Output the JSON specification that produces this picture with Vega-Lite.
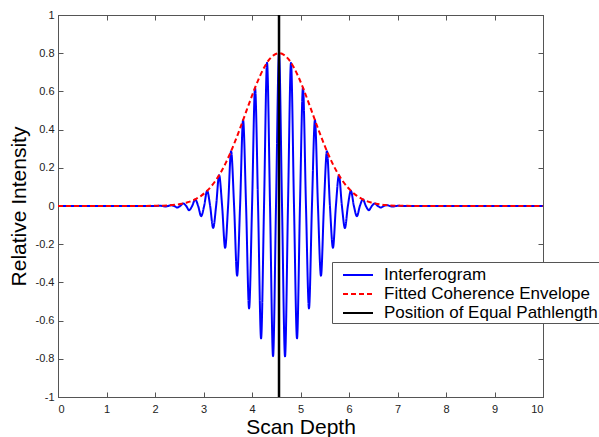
{
  "$schema": "https://vega.github.io/schema/vega-lite/v6.json",
  "width": 485,
  "height": 382,
  "autosize": {"type": "none"},
  "padding": {"left": 58, "top": 15, "right": 56, "bottom": 40},
  "background": "white",
  "config": {
    "view": {"stroke": "#555", "strokeWidth": 1},
    "axis": {
      "grid": false,
      "domainColor": "#555",
      "tickColor": "#555",
      "tickSize": -5,
      "labelFont": "Liberation Sans",
      "labelFontSize": 11,
      "labelColor": "#222",
      "titleFont": "Liberation Sans",
      "titleFontSize": 21,
      "titleFontWeight": "normal",
      "titleColor": "#000"
    },
    "legend": {
      "labelFont": "Liberation Sans",
      "labelFontSize": 17,
      "labelColor": "#000",
      "labelLimit": 500,
      "symbolType": "M-1.5,0H1.5",
      "symbolSize": 400,
      "symbolStrokeWidth": 2,
      "symbolOffset": 13,
      "labelOffset": 15,
      "strokeColor": "#555",
      "fillColor": "#ffffff",
      "padding": 2,
      "rowPadding": 0
    }
  },
  "data": {
    "values": [
      {"series": "Interferogram", "x": 0, "y": 0},
      {"series": "Interferogram", "x": 2.025, "y": 0},
      {"series": "Interferogram", "x": 2.087, "y": 0.0013},
      {"series": "Interferogram", "x": 2.149, "y": 0},
      {"series": "Interferogram", "x": 2.211, "y": -0.0025},
      {"series": "Interferogram", "x": 2.272, "y": 0},
      {"series": "Interferogram", "x": 2.334, "y": 0.0045},
      {"series": "Interferogram", "x": 2.396, "y": 0},
      {"series": "Interferogram", "x": 2.458, "y": -0.0078},
      {"series": "Interferogram", "x": 2.519, "y": 0},
      {"series": "Interferogram", "x": 2.581, "y": 0.0133},
      {"series": "Interferogram", "x": 2.643, "y": 0},
      {"series": "Interferogram", "x": 2.705, "y": -0.0218},
      {"series": "Interferogram", "x": 2.766, "y": 0},
      {"series": "Interferogram", "x": 2.828, "y": 0.0346},
      {"series": "Interferogram", "x": 2.890, "y": 0},
      {"series": "Interferogram", "x": 2.952, "y": -0.0534},
      {"series": "Interferogram", "x": 3.013, "y": 0},
      {"series": "Interferogram", "x": 3.075, "y": 0.0797},
      {"series": "Interferogram", "x": 3.137, "y": 0},
      {"series": "Interferogram", "x": 3.199, "y": -0.115},
      {"series": "Interferogram", "x": 3.260, "y": 0},
      {"series": "Interferogram", "x": 3.322, "y": 0.161},
      {"series": "Interferogram", "x": 3.384, "y": 0},
      {"series": "Interferogram", "x": 3.446, "y": -0.219},
      {"series": "Interferogram", "x": 3.507, "y": 0},
      {"series": "Interferogram", "x": 3.569, "y": 0.287},
      {"series": "Interferogram", "x": 3.631, "y": 0},
      {"series": "Interferogram", "x": 3.693, "y": -0.365},
      {"series": "Interferogram", "x": 3.754, "y": 0},
      {"series": "Interferogram", "x": 3.816, "y": 0.450},
      {"series": "Interferogram", "x": 3.878, "y": 0},
      {"series": "Interferogram", "x": 3.940, "y": -0.536},
      {"series": "Interferogram", "x": 4.001, "y": 0},
      {"series": "Interferogram", "x": 4.063, "y": 0.619},
      {"series": "Interferogram", "x": 4.125, "y": 0},
      {"series": "Interferogram", "x": 4.187, "y": -0.693},
      {"series": "Interferogram", "x": 4.248, "y": 0},
      {"series": "Interferogram", "x": 4.310, "y": 0.750},
      {"series": "Interferogram", "x": 4.372, "y": 0},
      {"series": "Interferogram", "x": 4.434, "y": -0.787},
      {"series": "Interferogram", "x": 4.495, "y": 0},
      {"series": "Interferogram", "x": 4.557, "y": 0.800},
      {"series": "Interferogram", "x": 4.619, "y": 0},
      {"series": "Interferogram", "x": 4.681, "y": -0.787},
      {"series": "Interferogram", "x": 4.742, "y": 0},
      {"series": "Interferogram", "x": 4.804, "y": 0.750},
      {"series": "Interferogram", "x": 4.866, "y": 0},
      {"series": "Interferogram", "x": 4.928, "y": -0.693},
      {"series": "Interferogram", "x": 4.989, "y": 0},
      {"series": "Interferogram", "x": 5.051, "y": 0.619},
      {"series": "Interferogram", "x": 5.113, "y": 0},
      {"series": "Interferogram", "x": 5.175, "y": -0.536},
      {"series": "Interferogram", "x": 5.236, "y": 0},
      {"series": "Interferogram", "x": 5.298, "y": 0.450},
      {"series": "Interferogram", "x": 5.360, "y": 0},
      {"series": "Interferogram", "x": 5.422, "y": -0.365},
      {"series": "Interferogram", "x": 5.483, "y": 0},
      {"series": "Interferogram", "x": 5.545, "y": 0.287},
      {"series": "Interferogram", "x": 5.607, "y": 0},
      {"series": "Interferogram", "x": 5.669, "y": -0.219},
      {"series": "Interferogram", "x": 5.730, "y": 0},
      {"series": "Interferogram", "x": 5.792, "y": 0.161},
      {"series": "Interferogram", "x": 5.854, "y": 0},
      {"series": "Interferogram", "x": 5.916, "y": -0.115},
      {"series": "Interferogram", "x": 5.977, "y": 0},
      {"series": "Interferogram", "x": 6.039, "y": 0.0797},
      {"series": "Interferogram", "x": 6.101, "y": 0},
      {"series": "Interferogram", "x": 6.163, "y": -0.0534},
      {"series": "Interferogram", "x": 6.224, "y": 0},
      {"series": "Interferogram", "x": 6.286, "y": 0.0346},
      {"series": "Interferogram", "x": 6.348, "y": 0},
      {"series": "Interferogram", "x": 6.410, "y": -0.0218},
      {"series": "Interferogram", "x": 6.471, "y": 0},
      {"series": "Interferogram", "x": 6.533, "y": 0.0133},
      {"series": "Interferogram", "x": 6.595, "y": 0},
      {"series": "Interferogram", "x": 6.657, "y": -0.0078},
      {"series": "Interferogram", "x": 6.718, "y": 0},
      {"series": "Interferogram", "x": 6.780, "y": 0.0045},
      {"series": "Interferogram", "x": 6.842, "y": 0},
      {"series": "Interferogram", "x": 6.904, "y": -0.0025},
      {"series": "Interferogram", "x": 6.965, "y": 0},
      {"series": "Interferogram", "x": 7.027, "y": 0.0013},
      {"series": "Interferogram", "x": 7.089, "y": 0},
      {"series": "Interferogram", "x": 10, "y": 0},

      {"series": "Fitted Coherence Envelope", "x": 0, "y": 0},
      {"series": "Fitted Coherence Envelope", "x": 1.957, "y": 0.0007},
      {"series": "Fitted Coherence Envelope", "x": 2.157, "y": 0.0019},
      {"series": "Fitted Coherence Envelope", "x": 2.357, "y": 0.0050},
      {"series": "Fitted Coherence Envelope", "x": 2.557, "y": 0.0120},
      {"series": "Fitted Coherence Envelope", "x": 2.657, "y": 0.0181},
      {"series": "Fitted Coherence Envelope", "x": 2.757, "y": 0.0266},
      {"series": "Fitted Coherence Envelope", "x": 2.857, "y": 0.0385},
      {"series": "Fitted Coherence Envelope", "x": 2.957, "y": 0.0544},
      {"series": "Fitted Coherence Envelope", "x": 3.057, "y": 0.0754},
      {"series": "Fitted Coherence Envelope", "x": 3.157, "y": 0.1022},
      {"series": "Fitted Coherence Envelope", "x": 3.257, "y": 0.1357},
      {"series": "Fitted Coherence Envelope", "x": 3.357, "y": 0.1764},
      {"series": "Fitted Coherence Envelope", "x": 3.457, "y": 0.2246},
      {"series": "Fitted Coherence Envelope", "x": 3.557, "y": 0.2799},
      {"series": "Fitted Coherence Envelope", "x": 3.657, "y": 0.3418},
      {"series": "Fitted Coherence Envelope", "x": 3.757, "y": 0.4086},
      {"series": "Fitted Coherence Envelope", "x": 3.857, "y": 0.4782},
      {"series": "Fitted Coherence Envelope", "x": 3.957, "y": 0.5482},
      {"series": "Fitted Coherence Envelope", "x": 4.057, "y": 0.6153},
      {"series": "Fitted Coherence Envelope", "x": 4.157, "y": 0.6763},
      {"series": "Fitted Coherence Envelope", "x": 4.257, "y": 0.7279},
      {"series": "Fitted Coherence Envelope", "x": 4.357, "y": 0.7671},
      {"series": "Fitted Coherence Envelope", "x": 4.457, "y": 0.7916},
      {"series": "Fitted Coherence Envelope", "x": 4.557, "y": 0.8000},
      {"series": "Fitted Coherence Envelope", "x": 4.657, "y": 0.7916},
      {"series": "Fitted Coherence Envelope", "x": 4.757, "y": 0.7671},
      {"series": "Fitted Coherence Envelope", "x": 4.857, "y": 0.7279},
      {"series": "Fitted Coherence Envelope", "x": 4.957, "y": 0.6763},
      {"series": "Fitted Coherence Envelope", "x": 5.057, "y": 0.6153},
      {"series": "Fitted Coherence Envelope", "x": 5.157, "y": 0.5482},
      {"series": "Fitted Coherence Envelope", "x": 5.257, "y": 0.4782},
      {"series": "Fitted Coherence Envelope", "x": 5.357, "y": 0.4086},
      {"series": "Fitted Coherence Envelope", "x": 5.457, "y": 0.3418},
      {"series": "Fitted Coherence Envelope", "x": 5.557, "y": 0.2799},
      {"series": "Fitted Coherence Envelope", "x": 5.657, "y": 0.2246},
      {"series": "Fitted Coherence Envelope", "x": 5.757, "y": 0.1764},
      {"series": "Fitted Coherence Envelope", "x": 5.857, "y": 0.1357},
      {"series": "Fitted Coherence Envelope", "x": 5.957, "y": 0.1022},
      {"series": "Fitted Coherence Envelope", "x": 6.057, "y": 0.0754},
      {"series": "Fitted Coherence Envelope", "x": 6.157, "y": 0.0544},
      {"series": "Fitted Coherence Envelope", "x": 6.257, "y": 0.0385},
      {"series": "Fitted Coherence Envelope", "x": 6.357, "y": 0.0266},
      {"series": "Fitted Coherence Envelope", "x": 6.457, "y": 0.0181},
      {"series": "Fitted Coherence Envelope", "x": 6.557, "y": 0.0120},
      {"series": "Fitted Coherence Envelope", "x": 6.757, "y": 0.0050},
      {"series": "Fitted Coherence Envelope", "x": 6.957, "y": 0.0019},
      {"series": "Fitted Coherence Envelope", "x": 7.157, "y": 0.0007},
      {"series": "Fitted Coherence Envelope", "x": 10, "y": 0},

      {"series": "Position of Equal Pathlength", "x": 4.557}
    ]
  },
  "resolve": {"axis": {"x": "independent", "y": "independent"}},
  "layer": [
    {
      "transform": [{"filter": "datum.series === 'Interferogram'"}],
      "mark": {"type": "line", "interpolate": "monotone", "strokeWidth": 2, "clip": true},
      "encoding": {
        "x": {"field": "x", "type": "quantitative",
              "scale": {"domain": [0, 10], "nice": false, "zero": false},
              "axis": {"orient": "bottom", "values": [0,1,2,3,4,5,6,7,8,9,10], "title": "Scan Depth",
                       "labelPadding": 11, "titleBaseline": "alphabetic", "titleY": 36}},
        "y": {"field": "y", "type": "quantitative",
              "scale": {"domain": [-1, 1], "nice": false, "zero": false},
              "axis": {"orient": "left", "values": [-1,-0.8,-0.6,-0.4,-0.2,0,0.2,0.4,0.6,0.8,1],
                       "format": "~g", "labelExpr": "replace(datum.label, '\u2212', '-')",
                       "title": "Relative Intensity", "labelPadding": 9,
                       "titleAngle": -90, "titleBaseline": "alphabetic", "titleAlign": "center",
                       "titleX": -33, "titleY": 191}},
        "color": {"field": "series", "type": "nominal",
                  "scale": {"domain": ["Interferogram", "Fitted Coherence Envelope", "Position of Equal Pathlength"],
                            "range": ["#0000ff", "#ff0000", "#000000"]},
                  "legend": {"orient": "none", "legendX": 274, "legendY": 247, "title": null,
                             "labelFontSize": 17, "labelOffset": 15}},
        "strokeDash": {"field": "series", "type": "nominal",
                       "scale": {"domain": ["Interferogram", "Fitted Coherence Envelope", "Position of Equal Pathlength"],
                                 "range": [[1, 0], [5, 3], [1, 0]]},
                       "legend": {"orient": "none", "legendX": 274, "legendY": 247, "title": null,
                                  "labelFontSize": 17, "labelOffset": 15}}
      }
    },
    {
      "transform": [{"filter": "datum.series === 'Fitted Coherence Envelope'"}],
      "mark": {"type": "line", "interpolate": "monotone", "strokeWidth": 2, "clip": true},
      "encoding": {
        "x": {"field": "x", "type": "quantitative",
              "axis": {"orient": "top", "values": [0,1,2,3,4,5,6,7,8,9,10], "labels": false, "title": null}},
        "y": {"field": "y", "type": "quantitative",
              "axis": {"orient": "right", "values": [-1,-0.8,-0.6,-0.4,-0.2,0,0.2,0.4,0.6,0.8,1], "labels": false, "title": null}},
        "color": {"field": "series", "type": "nominal"},
        "strokeDash": {"field": "series", "type": "nominal"}
      }
    },
    {
      "transform": [{"filter": "datum.series === 'Position of Equal Pathlength'"}],
      "mark": {"type": "rule", "strokeWidth": 2.5},
      "encoding": {
        "x": {"field": "x", "type": "quantitative", "axis": null},
        "color": {"field": "series", "type": "nominal"},
        "strokeDash": {"field": "series", "type": "nominal"}
      }
    }
  ]
}
